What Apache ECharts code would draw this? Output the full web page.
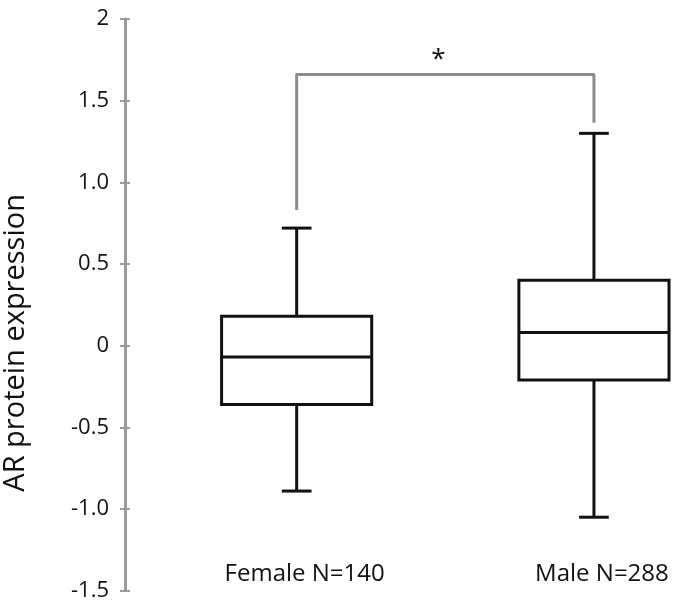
<!DOCTYPE html>
<html>
<head>
<meta charset="utf-8">
<script src="https://cdn.jsdelivr.net/npm/echarts@6/dist/echarts.min.js"></script>
<style>html,body{margin:0;padding:0;background:#fff;}#c{width:676px;height:602px;}</style>
</head>
<body>
<div id="c"></div>
<script>
const categories = ['Female N=140', 'Male N=288'];
const whiskerLow = [-0.89, -1.05];
const q1 = [-0.36, -0.21];
const median = [-0.07, 0.08];
const q3 = [0.18, 0.40];
const whiskerHigh = [0.72, 1.30];
const bracketLevel = 1.66;
const bracketEnds = [0.83, 1.365];
const yMin = -1.5, yMax = 2, yStep = 0.5;

const FONT = '"Open Sans", "Noto Sans", sans-serif';
const boxData = categories.map((c, i) => [i, whiskerLow[i], q1[i], median[i], q3[i], whiskerHigh[i]]);
const bracketData = [[0, bracketEnds[0]], [0, bracketLevel], [1, bracketLevel], [1, bracketEnds[1]]];

const chart = echarts.init(document.getElementById('c'), null, {renderer: 'canvas'});
const fmt = v => (v === 0 ? '0' : (v === 2 ? '2' : v.toFixed(1)));

chart.setOption({
  animation: false,
  grid: {left: 148, width: 594.6, top: 19, height: 571.7, containLabel: false, outerBoundsMode: 'none'},
  xAxis: {
    type: 'category', data: categories, boundaryGap: true,
    axisLine: {show: false}, axisTick: {show: false}, splitLine: {show: false},
    axisLabel: {inside: true, margin: 5, color: '#111', fontFamily: FONT, fontSize: 24, padding: [0, 0, 0, 16]}
  },
  yAxis: [{
    type: 'value', min: yMin, max: yMax, interval: yStep, offset: 23,
    name: 'AR protein expression', nameLocation: 'middle', nameGap: 95,
    nameTextStyle: {fontFamily: FONT, fontSize: 29, color: '#111', padding: [0, 76, 0, 0]},
    axisLine: {show: true, lineStyle: {color: '#9a9a9a', width: 3}},
    axisTick: {show: true, length: 5, lineStyle: {color: '#9a9a9a', width: 2}},
    splitLine: {show: false},
    axisLabel: {margin: 16, color: '#111', fontFamily: FONT, fontSize: 22, formatter: fmt}
  }, {
    type: 'value', min: yMin, max: yMax, interval: yStep, offset: 23, position: 'left',
    axisLine: {show: false}, axisLabel: {show: false}, splitLine: {show: false},
    axisTick: {show: true, inside: true, length: 5, lineStyle: {color: '#9a9a9a', width: 2}}
  }],
  series: [{
    type: 'custom',
    data: boxData,
    renderItem: function (params, api) {
      const idx = api.value(0);
      const band = api.size([1, 0])[0];
      const half = band * 0.2525;
      const cap = band * 0.05;
      const pLow = api.coord([idx, api.value(1)]);
      const pQ1 = api.coord([idx, api.value(2)]);
      const pMed = api.coord([idx, api.value(3)]);
      const pQ3 = api.coord([idx, api.value(4)]);
      const pHigh = api.coord([idx, api.value(5)]);
      const cx = pMed[0];
      const st = {stroke: '#111', lineWidth: 3, fill: null};
      return {
        type: 'group',
        children: [
          {type: 'rect', shape: {x: cx - half, y: pQ3[1], width: half * 2, height: pQ1[1] - pQ3[1]}, style: {stroke: '#111', lineWidth: 3, fill: '#fff'}},
          {type: 'line', shape: {x1: cx - half, y1: pMed[1], x2: cx + half, y2: pMed[1]}, style: st},
          {type: 'line', shape: {x1: cx, y1: pQ3[1], x2: cx, y2: pHigh[1]}, style: st},
          {type: 'line', shape: {x1: cx, y1: pQ1[1], x2: cx, y2: pLow[1]}, style: st},
          {type: 'line', shape: {x1: cx - cap, y1: pHigh[1], x2: cx + cap, y2: pHigh[1]}, style: st},
          {type: 'line', shape: {x1: cx - cap, y1: pLow[1], x2: cx + cap, y2: pLow[1]}, style: st}
        ]
      };
    }
  }, {
    type: 'line',
    data: bracketData,
    symbol: 'none',
    lineStyle: {color: '#8c8c8c', width: 3},
    markLine: {
      symbol: 'none', silent: true,
      lineStyle: {color: '#8c8c8c', width: 3, type: 'solid'},
      label: {show: true, position: 'middle', formatter: '*', color: '#111', fontFamily: FONT, fontSize: 26, distance: 2, offset: [-7, 0]},
      data: [[{coord: [0, bracketLevel]}, {coord: [1, bracketLevel]}]]
    }
  }]
});
</script>
</body>
</html>
